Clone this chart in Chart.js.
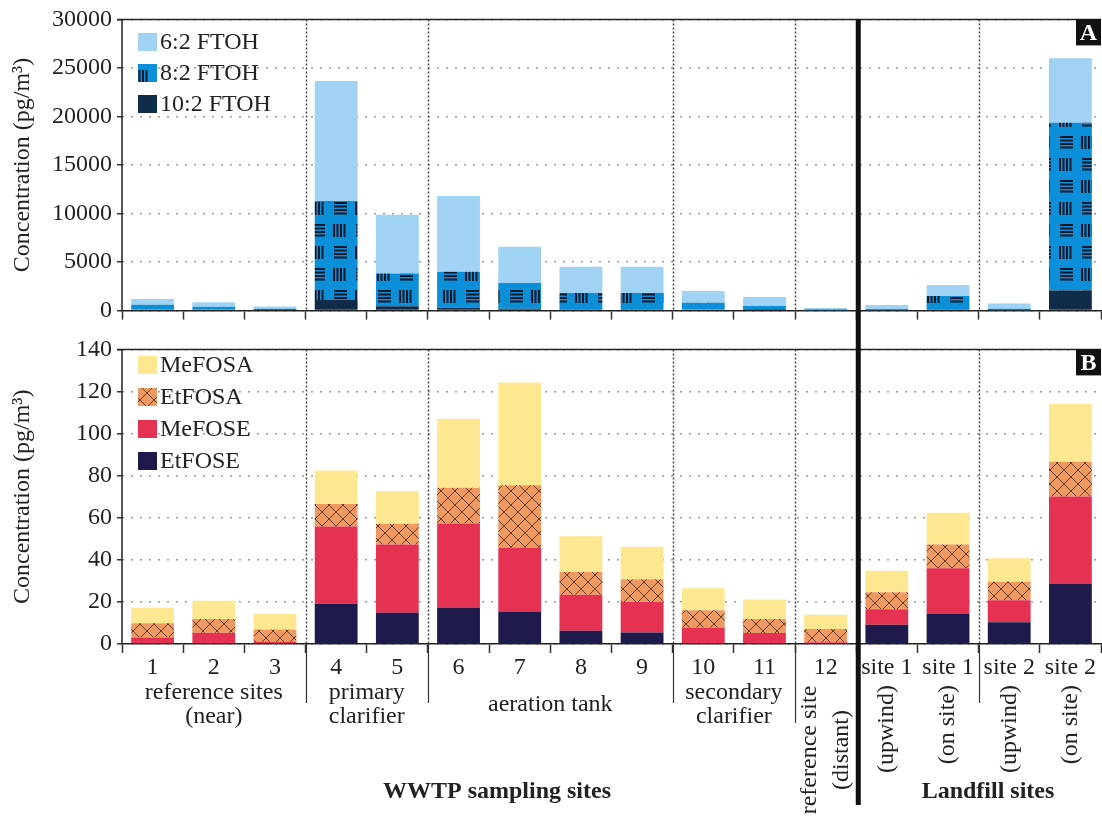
<!DOCTYPE html>
<html>
<head>
<meta charset="utf-8">
<script src="https://cdn.jsdelivr.net/npm/chart.js@4.4.0/dist/chart.umd.min.js"></script>
<style>
html, body { margin: 0; padding: 0; background: #fff; }
#wrap { position: relative; width: 1102px; height: 819px; }
canvas { position: absolute; left: 0; }
#topChart { top: 0; }
#bottomChart { top: 330px; }
</style>
</head>
<body>
<div id="wrap">
  <canvas id="topChart" width="1102" height="330"></canvas>
  <canvas id="bottomChart" width="1102" height="489"></canvas>
</div>
<script>
// sampling sites (x categories)
const siteLabels = ['1','2','3','4','5','6','7','8','9','10','11','12','site 1','site 1','site 2','site 2'];

// panel A - FTOHs, stacked segments (pg/m3)
const ftoh102 = [100, 80, 50, 1100, 450, 300, 200, 150, 150, 80, 60, 20, 40, 150, 40, 2080];
const ftoh82  = [500, 320, 150, 10200, 3380, 3700, 2650, 1660, 1660, 720, 410, 80, 110, 1360, 160, 17280];
const ftoh62  = [600, 450, 230, 12350, 6040, 7800, 3720, 2720, 2720, 1210, 940, 170, 420, 1140, 540, 6640];

// panel B - FOSAs / FOSEs, stacked segments (pg/m3)
const etfose = [0, 0, 0, 19.1, 14.9, 17.3, 15.2, 6.3, 5.5, 0, 0, 0, 9.2, 14.5, 10.3, 28.8];
const mefose = [3.1, 5.4, 0.9, 36.7, 32.4, 40.0, 30.5, 17.1, 14.5, 7.7, 5.2, 0.8, 7.3, 21.5, 10.5, 41.3];
const etfosa = [6.8, 6.5, 6.0, 10.7, 9.9, 16.9, 29.8, 10.8, 10.8, 8.3, 6.7, 6.3, 8.1, 11.3, 8.8, 16.5];
const mefosa = [7.3, 8.7, 7.3, 15.9, 15.5, 32.8, 48.8, 17.0, 15.4, 10.5, 9.2, 6.8, 10.2, 15.1, 11.2, 27.4];

// y axes
const topMax = 30000, topStep = 5000;
const bottomMax = 140, bottomStep = 20;

// site groups (category index ranges)
const wwtpGroups = [
  { lines: ['reference sites', '(near)'], from: 0, to: 2 },
  { lines: ['primary', 'clarifier'], from: 3, to: 4 },
  { lines: ['aeration tank'], from: 5, to: 8 },
  { lines: ['secondary', 'clarifier'], from: 9, to: 10 }
];
const distantLabel = ['reference site', '(distant)'];
const landfillSub = ['(upwind)', '(on site)', '(upwind)', '(on site)'];

const serif = '"Liberation Serif", "Times New Roman", serif';
const ink = '#222';

function makePattern(w, h, bg, draw) {
  const c = document.createElement('canvas');
  c.width = w; c.height = h;
  const g = c.getContext('2d');
  g.fillStyle = bg;
  g.fillRect(0, 0, w, h);
  draw(g);
  return g.createPattern(c, 'repeat');
}

// 8:2 FTOH - blue with blocks of short lines
function lineBlocks(g, ox, oy) {
  [0, 3.5, 7, 10.5].forEach(y => { g.moveTo(ox, oy + y); g.lineTo(ox + 13, oy + y); });
  [0, 3.5, 7, 10.5].forEach(x => { g.moveTo(ox + 22 + x, oy - 1); g.lineTo(ox + 22 + x, oy + 12); });
}
const pat82 = makePattern(44, 44, '#0b8fd8', g => {
  g.strokeStyle = '#10182a';
  g.lineWidth = 2;
  g.beginPath();
  lineBlocks(g, 4, 5);
  lineBlocks(g, -18, 27);
  lineBlocks(g, 26, 27);
  g.stroke();
});

// EtFOSA - orange with diamond lattice
const patEtfosa = makePattern(14, 14, '#ef9a62', g => {
  g.strokeStyle = '#6a3c22';
  g.lineWidth = 1;
  g.beginPath();
  g.moveTo(0, 0); g.lineTo(14, 14);
  g.moveTo(14, 0); g.lineTo(0, 14);
  g.stroke();
});

function boundaryX(xs, k, n) {
  if (k <= 0) return xs.left;
  if (k >= n) return xs.right;
  return (xs.getPixelForValue(k - 1) + xs.getPixelForValue(k)) / 2;
}

function decor(cfg) {
  return {
    id: 'decor',
    afterDraw(chart) {
      const ctx = chart.ctx;
      const xs = chart.scales.x;
      const area = chart.chartArea;
      const n = siteLabels.length;
      ctx.save();

      // dotted group separators
      ctx.strokeStyle = '#444';
      ctx.lineWidth = 1.5;
      ctx.setLineDash([2, 2]);
      [3, 5, 9, 11, 14].forEach(k => {
        const x = Math.round(boundaryX(xs, k, n)) + 0.5;
        ctx.beginPath();
        ctx.moveTo(x, area.top);
        ctx.lineTo(x, area.bottom);
        ctx.stroke();
      });
      ctx.setLineDash([]);

      // frame lines: top and left
      ctx.strokeStyle = ink;
      ctx.lineWidth = 1.5;
      ctx.beginPath();
      ctx.moveTo(area.left - 5, area.top);
      ctx.lineTo(area.right, area.top);
      ctx.moveTo(area.left, area.top);
      ctx.lineTo(area.left, area.bottom);
      ctx.stroke();

      // thick WWTP / landfill divider
      const tx = boundaryX(xs, 12, n) + 2;
      ctx.strokeStyle = '#111';
      ctx.lineWidth = 5;
      ctx.beginPath();
      ctx.moveTo(tx, cfg.thickFrom(area));
      ctx.lineTo(tx, cfg.thickTo);
      ctx.stroke();

      // panel letter
      ctx.fillStyle = '#111';
      ctx.fillRect(area.right - 25, area.top, 25, 26);
      ctx.fillStyle = '#fff';
      ctx.font = 'bold 24px ' + serif;
      ctx.textAlign = 'center';
      ctx.textBaseline = 'middle';
      ctx.fillText(cfg.letter, area.right - 12.5, area.top + 14);

      // legend
      ctx.textAlign = 'left';
      ctx.font = '24px ' + serif;
      cfg.legend.forEach((item, i) => {
        const cy = cfg.legendTop + i * cfg.legendStep;
        ctx.fillStyle = item.fill;
        ctx.fillRect(138, cy - 9, 19, 18);
        ctx.fillStyle = ink;
        ctx.fillText(item.label, 160, cy + 1);
      });

      if (cfg.labels) drawSiteLabels(ctx, xs, area, n);
      ctx.restore();
    }
  };
}

function drawSiteLabels(ctx, xs, area, n) {
  // thin group separators below the axis
  ctx.strokeStyle = '#333';
  ctx.lineWidth = 1.2;
  [[3, 373], [5, 373], [9, 373], [11, 393], [14, 373]].forEach(([k, yEnd]) => {
    const x = Math.round(boundaryX(xs, k, n)) + 0.5;
    ctx.beginPath();
    ctx.moveTo(x, area.bottom);
    ctx.lineTo(x, yEnd);
    ctx.stroke();
  });

  ctx.fillStyle = ink;
  ctx.font = '24px ' + serif;
  ctx.textAlign = 'center';
  ctx.textBaseline = 'middle';
  wwtpGroups.forEach(gr => {
    const cx = (boundaryX(xs, gr.from, n) + boundaryX(xs, gr.to + 1, n)) / 2;
    if (gr.lines.length === 1) {
      ctx.fillText(gr.lines[0], cx, 375);
    } else {
      gr.lines.forEach((t, i) => ctx.fillText(t, cx, 363 + i * 24));
    }
  });

  // rotated labels, reading upwards
  const rot = (text, x, y, align) => {
    ctx.save();
    ctx.translate(x, y);
    ctx.rotate(-Math.PI / 2);
    ctx.textAlign = align;
    ctx.fillText(text, 0, 0);
    ctx.restore();
  };
  const c12 = xs.getPixelForValue(11);
  rot(distantLabel[0], c12 - 16, 420, 'center');
  rot(distantLabel[1], c12 + 16, 420, 'center');
  landfillSub.forEach((t, i) => rot(t, xs.getPixelForValue(12 + i), 355, 'right'));

  ctx.textAlign = 'center';
  ctx.font = 'bold 24px ' + serif;
  ctx.fillText('WWTP sampling sites', 497, 462);
  ctx.fillText('Landfill sites', 988, 462);
}

const yTitle = {
  display: true,
  text: 'Concentration (pg/m³)',
  font: { family: serif, size: 24 },
  color: ink,
  padding: { top: 8, bottom: 0 }
};

function yScale(max, step) {
  return {
    stacked: true,
    min: 0,
    max: max,
    ticks: {
      stepSize: step,
      font: { family: serif, size: 24 },
      color: ink,
      padding: 5,
      callback: v => String(v)
    },
    grid: { color: '#9a9a9a', lineWidth: 1.5, tickLength: 5, tickColor: '#333', tickBorderDash: [1, 0] },
    border: { display: false, dash: [2, 7] },
    title: yTitle,
    afterFit(s) { s.width = 122; }
  };
}

const common = {
  responsive: false,
  animation: false,
  devicePixelRatio: 1,
  datasets: { bar: { barPercentage: 0.7, categoryPercentage: 1 } },
  plugins: { legend: { display: false }, tooltip: { enabled: false } }
};

new Chart(document.getElementById('topChart'), {
  type: 'bar',
  data: {
    labels: siteLabels,
    datasets: [
      { label: '10:2 FTOH', data: ftoh102, backgroundColor: '#0f2c4b' },
      { label: '8:2 FTOH', data: ftoh82, backgroundColor: pat82 },
      { label: '6:2 FTOH', data: ftoh62, backgroundColor: '#a0d3f3' }
    ]
  },
  options: Object.assign({}, common, {
    layout: { padding: { top: 16, right: 1, left: 0, bottom: 0 } },
    scales: {
      x: {
        stacked: true,
        ticks: { display: false },
        grid: { drawOnChartArea: false, tickLength: 9, tickColor: '#333', tickWidth: 1.5 },
        border: { color: ink, width: 1.5 },
        afterFit(s) { s.height = 16; }
      },
      y: yScale(topMax, topStep)
    }
  }),
  plugins: [decor({
    letter: 'A',
    legendTop: 42, legendStep: 31,
    legend: [
      { label: '6:2 FTOH', fill: '#a0d3f3' },
      { label: '8:2 FTOH', fill: pat82 },
      { label: '10:2 FTOH', fill: '#0f2c4b' }
    ],
    thickFrom: a => a.top,
    thickTo: 330
  })]
});

new Chart(document.getElementById('bottomChart'), {
  type: 'bar',
  data: {
    labels: siteLabels,
    datasets: [
      { label: 'EtFOSE', data: etfose, backgroundColor: '#1e1b4c' },
      { label: 'MeFOSE', data: mefose, backgroundColor: '#e63252' },
      { label: 'EtFOSA', data: etfosa, backgroundColor: patEtfosa },
      { label: 'MeFOSA', data: mefosa, backgroundColor: '#fde891' }
    ]
  },
  options: Object.assign({}, common, {
    layout: { padding: { top: 11, right: 1, left: 0, bottom: 0 } },
    scales: {
      x: {
        stacked: true,
        ticks: { font: { family: serif, size: 24 }, color: ink, padding: 0, maxRotation: 0, autoSkip: false },
        grid: { drawOnChartArea: false, tickLength: 9, tickColor: '#333', tickWidth: 1.5 },
        border: { color: ink, width: 1.5 },
        afterFit(s) { s.height = 175; }
      },
      y: yScale(bottomMax, bottomStep)
    }
  }),
  plugins: [decor({
    letter: 'B',
    legendTop: 35, legendStep: 32,
    legend: [
      { label: 'MeFOSA', fill: '#fde891' },
      { label: 'EtFOSA', fill: patEtfosa },
      { label: 'MeFOSE', fill: '#e63252' },
      { label: 'EtFOSE', fill: '#1e1b4c' }
    ],
    thickFrom: () => 0,
    thickTo: 475,
    labels: true
  })]
});
</script>
</body>
</html>
